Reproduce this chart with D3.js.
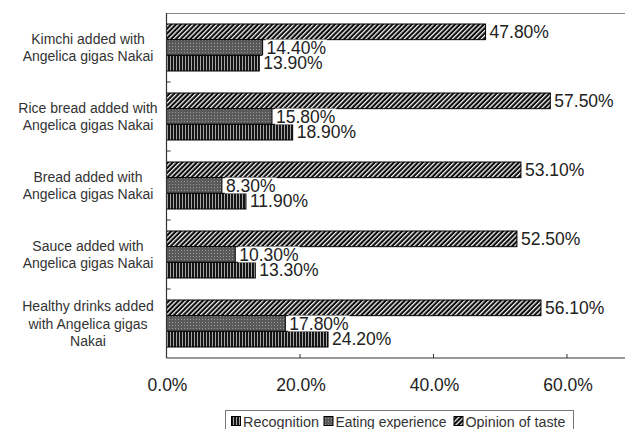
<!DOCTYPE html>
<html>
<head>
<meta charset="utf-8">
<script src="https://cdn.jsdelivr.net/npm/d3@7/dist/d3.min.js"></script>
<style>
  body { margin: 0; background: #fff; }
  svg { display: block; }
</style>
</head>
<body>
<svg id="chart" width="625" height="429"></svg>
<script>
const WIDTH = 625
const HEIGHT = 429
const MARGIN = {left: 166.5, top: 13, bottom: 71}

// data
const categories = [
  ["Kimchi added with", "Angelica gigas Nakai"],
  ["Rice bread added with", "Angelica gigas Nakai"],
  ["Bread added with", "Angelica gigas Nakai"],
  ["Sauce added with", "Angelica gigas Nakai"],
  ["Healthy drinks added", "with Angelica gigas", "Nakai"]
]
const seriesNames = ["Opinion of taste", "Eating experience", "Recognition"]
const recognition = [13.9, 18.9, 11.9, 13.3, 24.2]
const eatingExperience = [14.4, 15.8, 8.3, 10.3, 17.8]
const opinionOfTaste = [47.8, 57.5, 53.1, 52.5, 56.1]
const xTicks = [0, 20, 40, 60]
const legendOrder = ["Recognition", "Eating experience", "Opinion of taste"]

const seriesValues = {
  "Opinion of taste": opinionOfTaste,
  "Eating experience": eatingExperience,
  "Recognition": recognition
}
const fills = {
  "Opinion of taste": "url(#hatch)",
  "Eating experience": "url(#dots)",
  "Recognition": "url(#stripes)"
}

let svg = d3.select("#chart")

// patterns
let defs = svg.append("defs")
let hatch = defs.append("pattern").attr("id", "hatch")
  .attr("patternUnits", "userSpaceOnUse").attr("width", 3.4).attr("height", 3.4)
  .attr("patternTransform", "rotate(45)")
hatch.append("rect").attr("width", 3.4).attr("height", 3.4).attr("fill", "#0a0a0a")
hatch.append("rect").attr("x", 0).attr("width", 1.3).attr("height", 3.4).attr("fill", "#f4f4f4")

let dots = defs.append("pattern").attr("id", "dots")
  .attr("patternUnits", "userSpaceOnUse").attr("width", 3).attr("height", 3)
dots.append("rect").attr("width", 3).attr("height", 3).attr("fill", "#5a5a5a")
dots.append("rect").attr("x", 1).attr("y", 1).attr("width", 1).attr("height", 1).attr("fill", "#9a9a9a")

let stripes = defs.append("pattern").attr("id", "stripes")
  .attr("patternUnits", "userSpaceOnUse").attr("width", 3).attr("height", 3)
stripes.append("rect").attr("width", 3).attr("height", 3).attr("fill", "#151515")
stripes.append("rect").attr("x", 2).attr("width", 1).attr("height", 3).attr("fill", "#a8a8a8")

let xScale = d3.scaleLinear()
  .domain([0, 70])
  .range([MARGIN.left, MARGIN.left + 70 * 6.675])

let yScale = d3.scaleBand()
  .domain(d3.range(categories.length))
  .range([MARGIN.top, HEIGHT - MARGIN.bottom])
  .paddingInner(22 / 69)
  .paddingOuter(11 / 69)

let inner = d3.scaleBand()
  .domain(seriesNames)
  .range([0, yScale.bandwidth()])

const bottomY = HEIGHT - MARGIN.bottom

// frame top line
svg.append("line")
  .attr("x1", MARGIN.left).attr("x2", WIDTH)
  .attr("y1", MARGIN.top + 0.5).attr("y2", MARGIN.top + 0.5)
  .attr("stroke", "#888").attr("stroke-width", 1)

// bars
seriesNames.forEach(name => {
  svg.append("g")
    .selectAll("rect")
    .data(seriesValues[name])
    .join("rect")
    .attr("x", xScale(0))
    .attr("y", (d, i) => yScale(i) + inner(name))
    .attr("width", d => xScale(d) - xScale(0))
    .attr("height", inner.bandwidth())
    .attr("fill", fills[name])
    .attr("stroke", "#000")
    .attr("stroke-width", 1)
})

// value labels with white backgrounds
const fmt = d => d3.format(".2f")(d) + "%"
let labelFont = "17.5px 'Liberation Sans', Arial, sans-serif"
;["Recognition", "Eating experience", "Opinion of taste"].forEach(name => {
  let g = svg.append("g")
  seriesValues[name].forEach((v, i) => {
    let cy = yScale(i) + inner(name) + inner.bandwidth() / 2
    let lx = xScale(v) + 3
    let t = g.append("text")
      .attr("x", lx + 1)
      .attr("y", cy + 6.3)
      .attr("fill", "#222")
      .style("font", labelFont)
      .text(fmt(v))
    let w = t.node().getComputedTextLength()
    g.insert("rect", "text")
      .attr("x", lx)
      .attr("y", cy - 8)
      .attr("width", w + 2)
      .attr("height", 16)
      .attr("fill", "#fff")
    t.raise()
  })
})

// left axis
svg.append("line")
  .attr("x1", MARGIN.left).attr("x2", MARGIN.left)
  .attr("y1", MARGIN.top).attr("y2", bottomY)
  .attr("stroke", "#333").attr("stroke-width", 1.2)
svg.append("g")
  .selectAll("line")
  .data(d3.range(1, categories.length))
  .join("line")
  .attr("x1", MARGIN.left).attr("x2", MARGIN.left + 4)
  .attr("y1", i => yScale(i) - yScale.step() * yScale.paddingInner() / 2)
  .attr("y2", i => yScale(i) - yScale.step() * yScale.paddingInner() / 2)
  .attr("stroke", "#333")

// bottom axis
svg.append("line")
  .attr("x1", MARGIN.left).attr("x2", WIDTH)
  .attr("y1", bottomY).attr("y2", bottomY)
  .attr("stroke", "#333").attr("stroke-width", 1.2)
svg.append("g")
  .selectAll("line")
  .data(xTicks.slice(1))
  .join("line")
  .attr("x1", d => xScale(d)).attr("x2", d => xScale(d))
  .attr("y1", bottomY).attr("y2", bottomY - 4)
  .attr("stroke", "#333")
svg.append("g")
  .selectAll("text")
  .data(xTicks)
  .join("text")
  .attr("x", d => xScale(d) + 1)
  .attr("y", bottomY + 33)
  .attr("text-anchor", "middle")
  .attr("fill", "#222")
  .style("font", labelFont)
  .text(d => d3.format(".1f")(d) + "%")

// category labels
let catG = svg.append("g")
categories.forEach((lines, i) => {
  let cy = yScale(i) + yScale.bandwidth() / 2
  lines.forEach((line, j) => {
    catG.append("text")
      .attr("x", 88)
      .attr("y", cy + (j - (lines.length - 1) / 2) * 17.5 + 5)
      .attr("text-anchor", "middle")
      .attr("fill", "#333")
      .style("font", "14px 'Liberation Sans', Arial, sans-serif")
      .text(line)
  })
})

// legend
let legend = svg.append("g")
legend.append("rect")
  .attr("x", 225.5).attr("y", 410.5)
  .attr("width", 348).attr("height", 26)
  .attr("fill", "#fff").attr("stroke", "#777")
const legendX = [231, 323.5, 453.5]
const legendW = [76, 111, 100]
legendOrder.forEach((name, i) => {
  legend.append("rect")
    .attr("x", legendX[i] + 0.5).attr("y", 416.5)
    .attr("width", 9).attr("height", 9)
    .attr("fill", fills[name]).attr("stroke", "#000")
  legend.append("text")
    .attr("x", legendX[i] + 12).attr("y", 426.5)
    .attr("fill", "#333")
    .attr("textLength", legendW[i])
    .attr("lengthAdjust", "spacingAndGlyphs")
    .style("font", "14px 'Liberation Sans', Arial, sans-serif")
    .text(name)
})
</script>
</body>
</html>
